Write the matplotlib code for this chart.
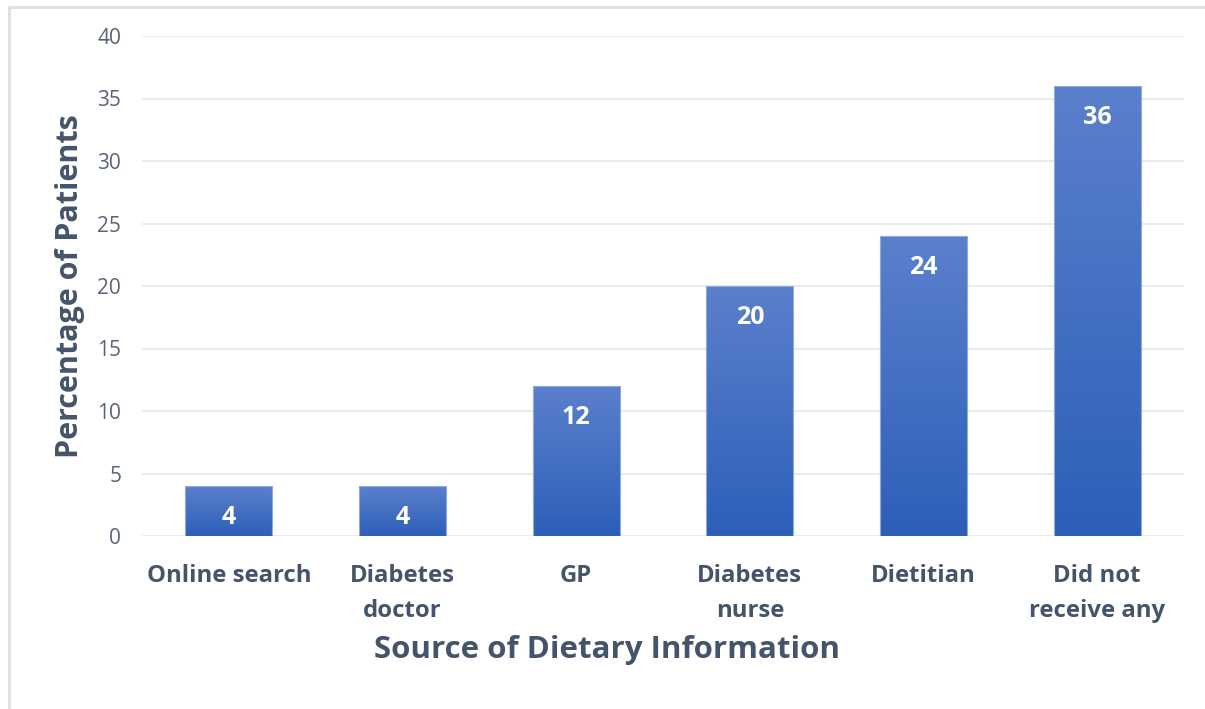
import matplotlib
matplotlib.use("Agg")
import matplotlib.pyplot as plt
import numpy as np
from matplotlib.lines import Line2D
from matplotlib.colors import LinearSegmentedColormap

categories = ["Online search", "Diabetes\ndoctor", "GP", "Diabetes\nnurse", "Dietitian", "Did not\nreceive any"]
values = [4, 4, 12, 20, 24, 36]
yticks = [0, 5, 10, 15, 20, 25, 30, 35, 40]

plt.rcParams['font.family'] = ['Open Sans', 'DejaVu Sans']

W, H = 1205, 709
fig = plt.figure(figsize=(W/100, H/100), dpi=100)
fig.patch.set_facecolor('white')

# outer frame (top and left edges only)
fig.add_artist(Line2D([8.5/W, 8.5/W, 1.0], [0.0, 1-6.5/H, 1-6.5/H], transform=fig.transFigure,
                      color='#dadee6', linewidth=2))

ax = fig.add_axes([142/W, 1-536/H, (1184-142)/W, (536-36)/H])
x = np.arange(len(categories))

bars = ax.bar(x, values, width=0.5, color='none', edgecolor='#8eaadb', linewidth=0.8, zorder=3)

grad = np.linspace(0, 1, 256).reshape(-1, 1)
cmap = LinearSegmentedColormap.from_list('g', ['#2d5fb9', '#5b80cc'])
for b in bars:
    x0, y0 = b.get_x(), b.get_y()
    w, h = b.get_width(), b.get_height()
    im = ax.imshow(grad, extent=[x0, x0+w, y0, y0+h], origin='lower', cmap=cmap,
                   aspect='auto', zorder=2, interpolation='bilinear')
    im.set_clip_path(b)
ax.set_xlim(-0.5, len(categories)-0.5)
ax.set_ylim(0, 40)

for xi, v in zip(x, values):
    ax.annotate(str(v), (xi, v), xytext=(0, -32), textcoords='offset pixels',
                ha='center', va='center', color='white', fontsize=18, fontweight='bold', zorder=4)

ax.set_yticks(yticks)
ax.set_xticks(x)
ax.set_xticklabels(categories, fontsize=17.2, fontweight='bold', color='#44546a', linespacing=1.62)
ax.tick_params(axis='y', labelsize=15, labelcolor='#596378', length=0, pad=15)
ax.tick_params(axis='x', length=0, pad=20)
for lbl in ax.get_xticklabels():
    lbl.set_verticalalignment('top')
ax.grid(axis='y', color='#e3e6ec', linewidth=1.2, zorder=0)
ax.set_axisbelow(True)
for s in ax.spines.values():
    s.set_visible(False)

ax.set_ylabel("Percentage of Patients", fontsize=22, fontweight='bold', color='#44546a', labelpad=9)
ax.set_xlabel("Source of Dietary Information", fontsize=22.5, fontweight='bold', color='#44546a')
ax.xaxis.set_label_coords((607-142)/(1184-142), (536-650)/(536-36))
ax.xaxis.label.set_horizontalalignment('center')
ax.xaxis.label.set_verticalalignment('center')

fig.savefig("out.png", dpi=100)
